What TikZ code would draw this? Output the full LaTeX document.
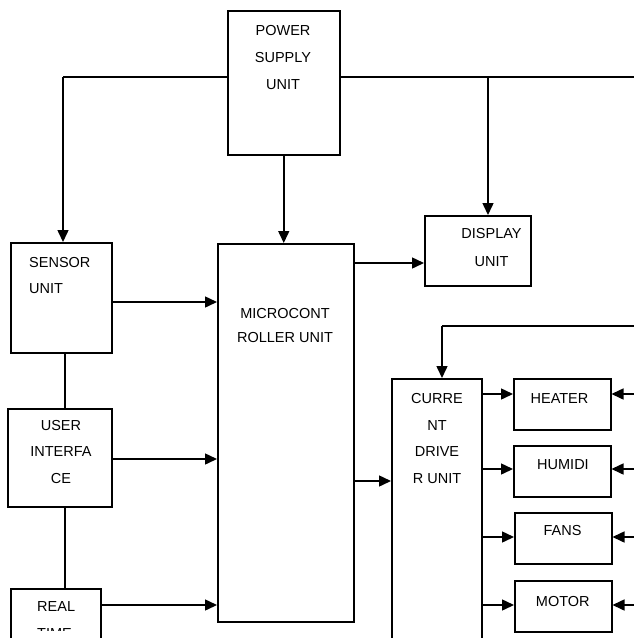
\documentclass[tikz,border=0pt]{standalone}
\usepackage{fontspec}
\setmainfont{Liberation Sans}
\usetikzlibrary{arrows.meta}
\tikzset{
  blk/.style={draw, line width=1.5pt, rectangle, inner sep=0pt, anchor=north west},
  lbl/.style={inner sep=0pt, anchor=north, align=center, font=\fontsize{14.5}{27}\selectfont},
  ln/.style={line width=1.5pt},
  arr/.style={line width=1.5pt, -{Triangle[length=12pt,width=11pt]}},
}
\begin{document}
\begin{tikzpicture}[x=1pt,y=-1pt]
\useasboundingbox (0,0) rectangle (634,638);
\clip (0,0) rectangle (634,638);
\fill[white] (0,0) rectangle (634,638);
% boxes
\node[blk, minimum width=112pt, minimum height=144pt] (psu) at (227,10) {};
\node[blk, minimum width=101pt, minimum height=110pt] (sensor) at (10,242) {};
\node[blk, minimum width=104pt, minimum height=98pt] (ui) at (7,408) {};
\node[blk, minimum width=90pt, minimum height=80pt] (real) at (10,588) {};
\node[blk, minimum width=136pt, minimum height=378pt] (mcu) at (217,243) {};
\node[blk, minimum width=106pt, minimum height=70pt] (display) at (424,215) {};
\node[blk, minimum width=90pt, minimum height=290pt] (cd) at (391,378) {};
\node[blk, minimum width=97pt, minimum height=51pt] (heater) at (513,378) {};
\node[blk, minimum width=97pt, minimum height=51pt] (humidi) at (513,445) {};
\node[blk, minimum width=97pt, minimum height=51pt] (fans) at (514,512) {};
\node[blk, minimum width=97pt, minimum height=51pt] (motor) at (514,580) {};
% labels
\node[lbl] (tpsu) at (283,25) {POWER\\SUPPLY\\UNIT};
\node[lbl, anchor=north west, align=left, font=\fontsize{14.5}{26.5}\selectfont] (tsensor) at (29,257) {SENSOR\\UNIT};
\node[lbl, font=\fontsize{14.5}{26.5}\selectfont] (tui) at (61,420) {USER\\INTERFA\\CE};
\node[lbl, anchor=north west, align=left] (treal) at (37,601) {REAL};
\begin{scope}
\clip (0,0) rectangle (634,630.5);
\node[lbl, anchor=north west, align=left] (treal2) at (37,628) {TIME};
\end{scope}
\node[lbl, font=\fontsize{14.5}{23.7}\selectfont] (tmcu) at (285,308) {MICROCONT\\ROLLER UNIT};
\node[lbl, font=\fontsize{14.5}{28.5}\selectfont] (tdisplay) at (491.5,228) {DISPLAY\\UNIT};
\node[lbl, font=\fontsize{14.5}{26.7}\selectfont] (tcd) at (437,393) {CURRE\\NT\\DRIVE\\R UNIT};
\node[lbl] (theater) at (559.5,393.5) {HEATER};
\node[lbl] (thumidi) at (563,459) {HUMIDI};
\node[lbl] (tfans) at (562.5,525.5) {FANS};
\node[lbl] (tmotor) at (562.8,596) {MOTOR};
% bus coordinates
\coordinate (busL) at (63,77);
\coordinate (busR) at (634,77);
\coordinate (dispdrop) at (488,77);
\coordinate (vx) at (65,0);
\coordinate (fbR) at (634,326);
\coordinate (fbL) at (442,326);
\coordinate (edge) at (634,0);
% power bus
\draw[ln] (psu.west |- busL) -- (busL);
\draw[arr] (busL) -- (busL |- sensor.north);
\draw[ln] (psu.east |- busR) -- (busR);
\draw[arr] (dispdrop) -- (dispdrop |- display.north);
\draw[arr] (psu.south) -- (psu.south |- mcu.north);
% left chain
\draw[ln] (vx |- sensor.south) -- (vx |- ui.north);
\draw[ln] (vx |- ui.south) -- (vx |- real.north);
% into MCU
\draw[arr] (sensor.east |- 0,302) -- (mcu.west |- 0,302);
\draw[arr] (ui.east |- 0,459) -- (mcu.west |- 0,459);
\draw[arr] (real.east |- 0,605) -- (mcu.west |- 0,605);
% MCU outputs
\draw[arr] (mcu.east |- 0,263) -- (display.west |- 0,263);
\draw[arr] (mcu.east |- 0,481) -- (cd.west |- 0,481);
% feedback
\draw[ln] (fbR) -- (fbL);
\draw[arr] (fbL) -- (fbL |- cd.north);
% driver to loads
\draw[arr] (cd.east |- 0,394) -- (heater.west |- 0,394);
\draw[arr] (cd.east |- 0,469) -- (humidi.west |- 0,469);
\draw[arr] (cd.east |- 0,537) -- (fans.west |- 0,537);
\draw[arr] (cd.east |- 0,605) -- (motor.west |- 0,605);
% from right edge into loads
\draw[arr] (edge |- 0,394) -- (heater.east |- 0,394);
\draw[arr] (edge |- 0,469) -- (humidi.east |- 0,469);
\draw[arr] (edge |- 0,537) -- (fans.east |- 0,537);
\draw[arr] (edge |- 0,605) -- (motor.east |- 0,605);
\end{tikzpicture}
\end{document}
